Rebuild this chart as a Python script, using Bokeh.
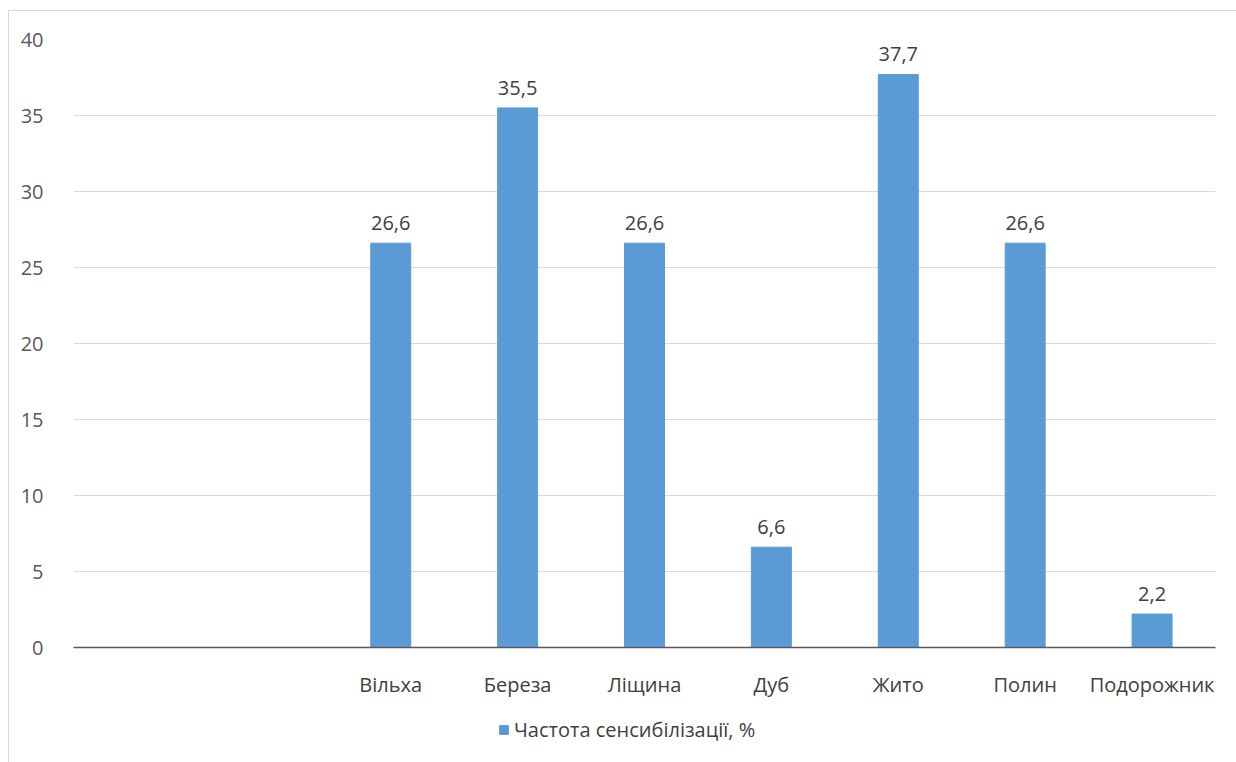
from bokeh.plotting import figure
from bokeh.layouts import column
from bokeh.models import ColumnDataSource, Range1d, FixedTicker, Legend, LegendItem
from bokeh.core.properties import value
from bokeh.embed import file_html
from bokeh.resources import INLINE

categories = ["", "", "Вільха", "Береза", "Ліщина", "Дуб", "Жито", "Полин", "Подорожник"]
values = [None, None, 26.6, 35.5, 26.6, 6.6, 37.7, 26.6, 2.2]
series_name = "Частота сенсибілізації, %"
y_ticks = [0, 5, 10, 15, 20, 25, 30, 35, 40]

FONT = "Open Sans"
FS = "20px"
BAR = "#5b9bd5"

xs = [i + 0.5 for i, v in enumerate(values) if v is not None]
ys = [v for v in values if v is not None]
labels = [f"{v:.1f}".replace(".", ",") for v in ys]
src = ColumnDataSource(dict(x=xs, y=ys, label=labels))

p = figure(frame_width=1141, frame_height=607, output_backend="svg", toolbar_location=None,
           x_range=Range1d(0, len(categories)), y_range=Range1d(0, 40),
           min_border_left=64, min_border_right=23, min_border_top=28, min_border_bottom=50)
p.margin = (10, 0, 0, 8)
p.styles = {"border-left": "1px solid #d9d9d9", "border-top": "1px solid #d9d9d9"}
p.outline_line_color = None
p.background_fill_color = "white"
p.border_fill_color = "white"

r = p.vbar(x="x", top="y", width=0.315, bottom=0, source=src, color=BAR)
p.text(x="x", y="y", text="label", source=src, text_align="center", text_baseline="bottom",
       y_offset=-13, text_font=value(FONT), text_font_size=FS, text_color="#404040")

p.xaxis.ticker = FixedTicker(ticks=[i + 0.5 for i in range(len(categories))])
p.xaxis.major_label_overrides = {i + 0.5: c for i, c in enumerate(categories)}
p.xaxis.major_tick_line_color = None
p.xaxis.minor_tick_line_color = None
p.xaxis.axis_line_color = "#595959"
p.xaxis.axis_line_width = 1.5
p.xaxis.major_label_standoff = 17
p.xaxis.major_label_text_font = FONT
p.xaxis.major_label_text_font_size = FS
p.xaxis.major_label_text_color = "#404040"

p.yaxis.ticker = FixedTicker(ticks=y_ticks)
p.yaxis.major_tick_line_color = None
p.yaxis.minor_tick_line_color = None
p.yaxis.axis_line_color = None
p.yaxis.major_label_standoff = 24
p.yaxis.major_label_text_font = FONT
p.yaxis.major_label_text_font_size = FS
p.yaxis.major_label_text_color = "#595959"

p.xgrid.grid_line_color = None
p.ygrid.grid_line_color = "#d9d9d9"
p.ygrid.grid_line_width = 1.2

# legend strip below the chart (the swatch renderer holds one bar kept outside the strip's view)
p2 = figure(frame_width=1228, frame_height=67, output_backend="svg", toolbar_location=None,
            x_range=Range1d(0, 1), y_range=Range1d(0, 1),
            min_border_left=0, min_border_right=0, min_border_top=0, min_border_bottom=0)
p2.margin = (0, 0, 0, 8)
p2.styles = {"border-left": "1px solid #d9d9d9"}
p2.axis.visible = False
p2.grid.visible = False
p2.outline_line_color = None
p2.background_fill_color = "white"
p2.border_fill_color = "white"
r2 = p2.vbar(x=[5], top=[1], width=0.1, color=BAR)
legend = Legend(items=[LegendItem(label=series_name, renderers=[r2])], location=(489, 23),
                orientation="horizontal", label_text_font=FONT, label_text_font_size=FS,
                label_text_color="#404040", glyph_width=11, glyph_height=11,
                border_line_color=None, background_fill_alpha=0, label_standoff=5,
                padding=0, margin=0, label_height=20)
p2.add_layout(legend, "center")

layout = column(p, p2, spacing=0)
open("out.html", "w").write(file_html(layout, INLINE))
